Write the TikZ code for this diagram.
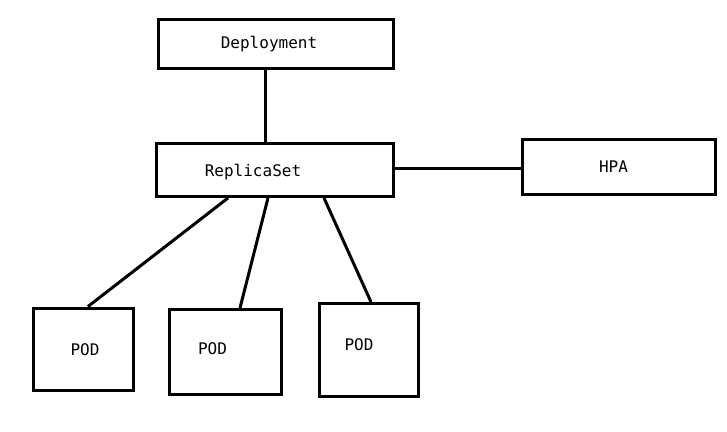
\documentclass[tikz,border=0pt]{standalone}
\usepackage{fontspec}
\setmonofont{DejaVu Sans Mono}
\begin{document}
\begin{tikzpicture}[x=1pt,y=-1pt,
  box/.style={draw,line width=3pt,minimum width=#1,inner sep=0pt},
  lbl/.style={font=\ttfamily\fontsize{16}{19}\selectfont},
  conn/.style={line width=3pt}]
\useasboundingbox[fill=white] (0,0) rectangle (727,431);
\node[box=235pt,minimum height=49pt,label={[lbl,xshift=-7pt]center:Deployment}] (dep) at (276,44) {};
\node[box=237pt,minimum height=53pt,label={[lbl,xshift=-22pt,yshift=-2pt]center:ReplicaSet}] (rs) at (275,170) {};
\node[box=193pt,minimum height=55pt,label={[lbl,xshift=-5pt,yshift=0.5pt]center:HPA}] (hpa) at (618.5,167) {};
\node[box=100pt,minimum height=82pt,label={[lbl,xshift=1.5pt,yshift=-1pt]center:POD}] (p1) at (83.5,349) {};
\node[box=112pt,minimum height=85pt,label={[lbl,xshift=-13pt,yshift=3.5pt]center:POD}] (p2) at (225.5,352) {};
\node[box=99pt,minimum height=93pt,label={[lbl,xshift=-10pt,yshift=5pt]center:POD}] (p3) at (369,350) {};
\draw[conn] ([xshift=-11pt]dep.south) -- ([xshift=-11pt]dep.south |- rs.north);
\draw[conn] ([yshift=2pt]rs.east) -- ([yshift=2pt]rs.east -| hpa.west);
\draw[conn] ([xshift=-47pt]rs.south) -- ([xshift=4.5pt]p1.north);
\draw[conn] ([xshift=-7pt]rs.south) -- ([xshift=14.5pt]p2.north);
\draw[conn] ([xshift=49pt]rs.south) -- ([xshift=2pt]p3.north);
\end{tikzpicture}
\end{document}
